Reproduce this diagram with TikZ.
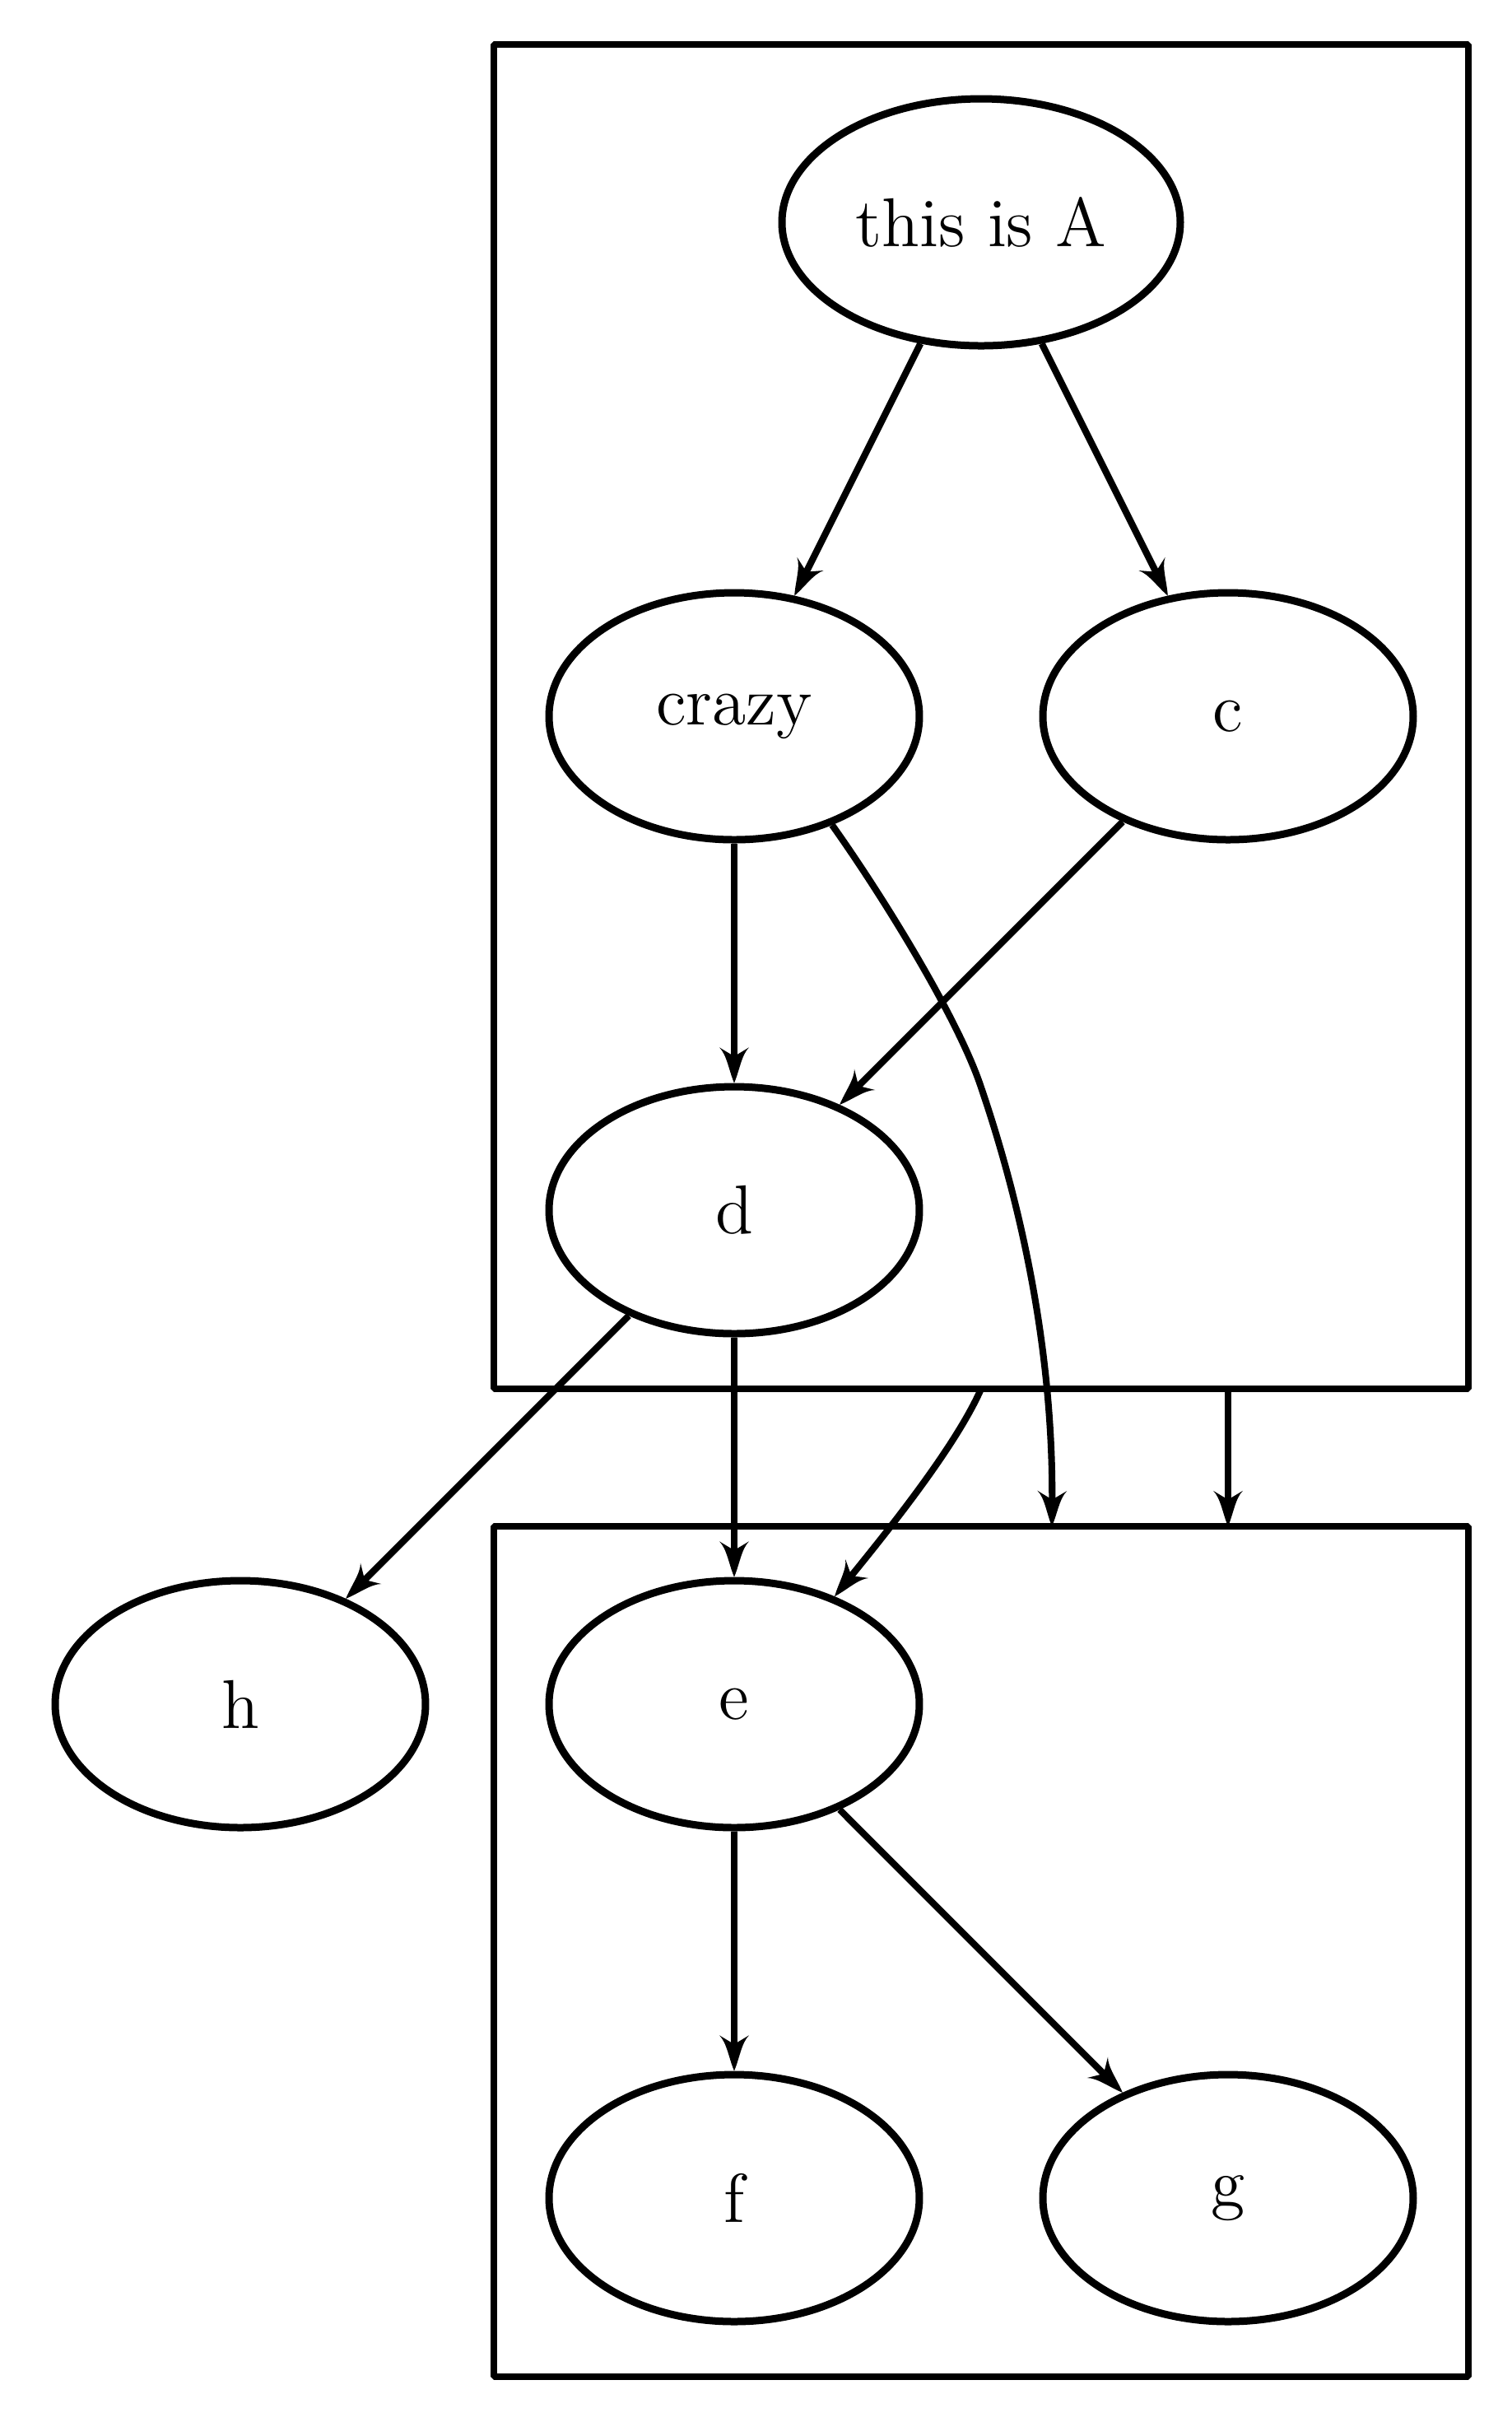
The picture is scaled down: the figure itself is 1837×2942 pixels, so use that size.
\documentclass[tikz,border=0pt]{standalone}
\usepackage{fontspec}
\usetikzlibrary{arrows.meta,shapes.geometric}
\newdimen\gvtmp
\pgfdeclarearrow{
  name = GVee,
  parameters = {\the\pgfarrowlength,\the\pgfarrowwidth,\the\pgfarrowinset},
  setup code = {
    \pgfarrowssettipend{0pt}
    \pgfarrowssetbackend{-\pgfarrowlength}
    \pgfarrowssetlineend{-.6\pgfarrowlength}
    \pgfarrowssavethe\pgfarrowlength
    \pgfarrowssavethe\pgfarrowwidth
    \pgfarrowssavethe\pgfarrowinset
  },
  drawing code = {
    \gvtmp=\pgfarrowinset
    \advance\gvtmp by -\pgfarrowlength
    \pgfpathmoveto{\pgfqpoint{0pt}{0pt}}
    \pgfpathcurveto{\pgfqpoint{-.35\pgfarrowlength}{.18\pgfarrowwidth}}{\pgfqpoint{-.8\pgfarrowlength}{.25\pgfarrowwidth}}{\pgfqpoint{-\pgfarrowlength}{.5\pgfarrowwidth}}
    \pgfpathlineto{\pgfqpoint{\gvtmp}{0pt}}
    \pgfpathlineto{\pgfqpoint{-\pgfarrowlength}{-.5\pgfarrowwidth}}
    \pgfpathcurveto{\pgfqpoint{-.8\pgfarrowlength}{-.25\pgfarrowwidth}}{\pgfqpoint{-.35\pgfarrowlength}{-.18\pgfarrowwidth}}{\pgfqpoint{0pt}{0pt}}
    \pgfpathclose
    \pgfusepathqfill
  },
  defaults = {length=7.2pt, width=6pt, inset=1.8pt}
}
\begin{document}
\begin{tikzpicture}[x={(0.1666667pt,0)}, y={(0,-0.1666667pt)},
  gvnode/.style={draw, ellipse, line width=1.5pt, inner sep=0pt,
    minimum width=75pt, minimum height=50pt, font=\fontsize{14}{17}\selectfont},
  cluster/.style={draw, rectangle, line width=1.35pt, line join=bevel,
    inner sep=0pt, outer sep=0pt},
  gvedge/.style={line width=1.35pt, -{GVee}}]
\useasboundingbox (0,0) rectangle (1837,2942);
\node[cluster, minimum width=197.33pt, minimum height=272.17pt] (cl1) at (1192,870.5) {};
\node[cluster, minimum width=197.33pt, minimum height=172.17pt] (cl2) at (1192,2370.5) {};
\node[gvnode, minimum width=80.67pt] (A) at (1192,270) {this is A};
\node[gvnode] (crazy) at (892,870) {crazy};
\node[gvnode] (c) at (1492,870) {c};
\node[gvnode] (d) at (892,1470) {d};
\node[gvnode] (e) at (892,2070) {e};
\node[gvnode] (h) at (292,2070) {h};
\node[gvnode] (f) at (892,2670) {f};
\node[gvnode] (g) at (1492,2670) {g};
\coordinate (bend) at (1190,1315);
\coordinate (cin) at (1278,1854);
\draw[gvedge] (A) -- (crazy);
\draw[gvedge] (A) -- (c);
\draw[gvedge] (crazy) -- (d);
\draw[gvedge] (c) -- (d);
\draw[gvedge] (crazy.-48.5) .. controls (1070,1085) and (1160,1230) .. (bend)
  .. controls (1240,1460) and (1280,1640) .. (cl2.north -| cin);
\draw[gvedge] (d) -- (h);
\draw[gvedge] (d) -- (e);
\draw[gvedge] (cl1.south -| A) .. controls (1160,1760) and (1070,1870) .. (e.47.7);
\draw[gvedge] (cl1.south -| c) -- (cl2.north -| c);
\draw[gvedge] (e) -- (f);
\draw[gvedge] (e) -- (g);
\end{tikzpicture}
\end{document}
